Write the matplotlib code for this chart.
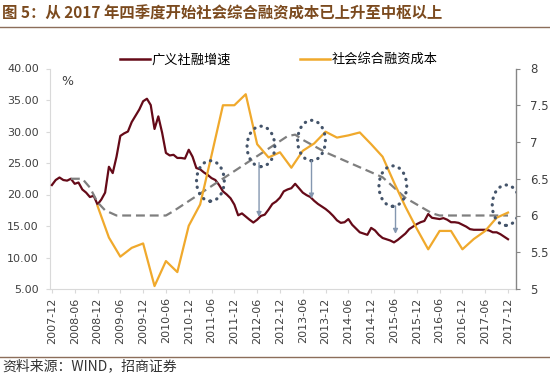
import numpy as np
import matplotlib
matplotlib.use("Agg")
import matplotlib.pyplot as plt
from matplotlib.patches import Ellipse
from matplotlib.lines import Line2D

plt.rcParams['font.family'] = ['DejaVu Sans', 'Noto Sans CJK SC']

# ---------------- data ----------------
title = "图 5：从 2017 年四季度开始社会综合融资成本已上升至中枢以上"
source = "资料来源：WIND，招商证券"
legend_labels = ["广义社融增速", "社会综合融资成本"]

tick_labels = ["2007-12", "2008-06", "2008-12", "2009-06", "2009-12", "2010-06",
               "2010-12", "2011-06", "2011-12", "2012-06", "2012-12", "2013-06",
               "2013-12", "2014-06", "2014-12", "2015-06", "2015-12", "2016-06",
               "2016-12", "2017-06", "2017-12"]

# monthly, starting 2007-12 (left axis, %)
social_financing_growth = [
    21.5, 22.3, 22.7, 22.3, 22.2, 22.5, 21.7, 21.9, 20.8, 20.3,
    19.6, 19.8, 18.4, 19.2, 20.3, 24.4, 23.4, 26.0, 29.3, 29.7,
    30.0, 31.5, 32.5, 33.5, 34.8, 35.2, 34.2, 30.4, 32.4, 29.8,
    26.6, 26.2, 26.3, 25.8, 25.8, 25.7, 27.1, 26.0, 24.2, 24.0,
    23.5, 23.1, 22.6, 22.3, 21.5, 20.5, 20.0, 19.4, 18.4, 16.7,
    17.0, 16.5, 16.0, 15.55, 16.0, 16.6, 16.8, 17.6, 18.5, 18.9,
    19.5, 20.5, 20.8, 21.0, 21.7, 21.0, 20.3, 19.9, 19.6, 19.0,
    18.5, 18.1, 17.7, 17.2, 16.6, 15.9, 15.5, 15.6, 16.1, 15.2,
    14.6, 14.0, 13.8, 13.6, 14.7, 14.3, 13.6, 13.1, 12.9, 12.7,
    12.4, 12.8, 13.3, 13.8, 14.5, 14.9, 15.3, 15.6, 15.8, 16.9,
    16.3, 16.2, 16.1, 16.25, 16.0, 15.6, 15.6, 15.5, 15.2, 14.9,
    14.5, 14.4, 14.4, 14.4, 14.4, 14.3, 14.0, 14.0, 13.7, 13.3, 12.9]

# quarterly, starting 2008-12 (month index 12), right axis
financing_cost_month = list(range(12, 121, 3))
financing_cost = [
    6.13, 5.70, 5.44, 5.56, 5.62, 5.04, 5.38, 5.23, 5.86, 6.15,
    6.82, 7.50, 7.50, 7.65, 6.97, 6.79, 6.86, 6.65, 6.88, 6.98,
    7.14, 7.06, 7.09, 7.13, 6.97, 6.80, 6.45, 6.12, 5.82, 5.54,
    5.79, 5.79, 5.54, 5.68, 5.79, 5.97, 6.04]

# dashed "centre" trend (right axis)
trend_month = [5, 8, 10, 12, 14, 17, 30, 32, 62, 64, 66, 72, 87, 93, 97, 100, 102, 120]
trend_value = [6.5, 6.5, 6.38, 6.18, 6.07, 6.0, 6.0, 6.06, 7.08, 7.1, 7.03, 6.86,
               6.52, 6.24, 6.12, 6.03, 6.0, 6.0]

# annotations (month index, right-axis value)
circle_month = [41.7, 55.0, 68.3, 89.7, 119.5]
circle_value = [6.47, 6.94, 7.02, 6.40, 6.14]
arrow_month = [54.5, 68.3, 90.4]
arrow_start = [6.72, 6.745, 6.13]
arrow_end = [5.98, 6.23, 5.75]

# ---------------- styling ----------------
RED = "#650A18"
ORANGE = "#F0A92C"
GRAY = "#7F7F7F"
NAVY = "#44546A"
ARROW = "#8497B0"
BROWN = "#7B4A1E"

fig = plt.figure(figsize=(5.5, 3.74), dpi=100)
fig.patch.set_facecolor("white")

ax = fig.add_axes([50/550, 1-289/374, (516-50)/550, (289-68.5)/374])
ax2 = ax.twinx()

x_red = np.arange(len(social_financing_growth))
ax.plot(x_red, social_financing_growth, color=RED, lw=1.6, zorder=3)
ax2.plot(trend_month, trend_value, color=GRAY, lw=1.6, dashes=(4, 2.2), zorder=2)
ax2.plot(financing_cost_month, financing_cost, color=ORANGE, lw=1.6, zorder=3)

for m, v in zip(circle_month, circle_value):
    e = Ellipse((m, v), width=7.3, height=0.55, fill=False, edgecolor=NAVY,
                lw=2.3, linestyle=(0, (0.1, 2.0)), zorder=4)
    e.set_capstyle("round")
    ax2.add_patch(e)

for m, s, t in zip(arrow_month, arrow_start, arrow_end):
    ax2.annotate("", xy=(m, t), xytext=(m, s),
                 arrowprops=dict(arrowstyle="-|>", color=ARROW, lw=1.0,
                                 mutation_scale=7, shrinkA=0, shrinkB=0), zorder=4)

ax.set_xlim(-0.5, 122.1)
ax.set_ylim(5, 40)
ax2.set_ylim(5, 8)

ax.set_yticks(np.arange(5, 41, 5))
ax.set_yticklabels([f"{v:.2f}" for v in np.arange(5, 41, 5)], fontsize=8, color="#404040")
ax2.set_yticks([5, 5.5, 6, 6.5, 7, 7.5, 8])
ax2.set_yticklabels(["5", "5.5", "6", "6.5", "7", "7.5", "8"], fontsize=8.5, color="#404040")

ax.set_xticks(np.arange(len(tick_labels)) * 6)
ax.set_xticklabels(tick_labels, rotation=90, fontsize=8, color="#404040")

ax.tick_params(axis="y", length=3, width=0.8, color="#D9D9D9", pad=5)
ax.tick_params(axis="x", length=3, width=0.8, color="#D9D9D9", pad=3)
ax2.tick_params(axis="y", length=3, width=0.8, color="#868686", pad=7)

for a in (ax, ax2):
    a.spines["top"].set_visible(False)
ax.spines["left"].set_color("#D9D9D9")
ax.spines["bottom"].set_color("#D9D9D9")
ax.spines["right"].set_visible(False)
ax2.spines["left"].set_visible(False)
ax2.spines["bottom"].set_visible(False)
ax2.spines["right"].set_color("#868686")
ax2.spines["right"].set_linewidth(1.0)

ax.text(0.025, 0.97, "%", transform=ax.transAxes, fontsize=9, color="#404040",
        ha="left", va="top")

# legend
handles = [Line2D([], [], color=RED, lw=1.8), Line2D([], [], color=ORANGE, lw=1.8)]
fig.legend(handles, legend_labels, loc="center left", bbox_to_anchor=(120/550, 1-60/374),
           ncol=2, frameon=False, handlelength=2.3, handletextpad=0.1,
           borderpad=0, borderaxespad=0, columnspacing=5.2,
           prop={"family": ["Noto Sans CJK SC"], "size": 9.5})

# title, separators, source
fig.text(2/550, 1-13/374, title, fontsize=11.1, fontweight="bold", color=BROWN,
         ha="left", va="center", family=["Noto Sans CJK SC", "DejaVu Sans"])
fig.add_artist(Line2D([0, 1], [1-26.7/374, 1-26.7/374], color="#8C6E5A", lw=1.0))
fig.add_artist(Line2D([0, 1], [1-356.7/374, 1-356.7/374], color="#8C6E5A", lw=1.0))
fig.text(2/550, 1-366/374, source, fontsize=10, color="#333333", ha="left",
         va="center", family=["Noto Sans CJK SC", "DejaVu Sans"])

fig.savefig("out.png", dpi=100)
